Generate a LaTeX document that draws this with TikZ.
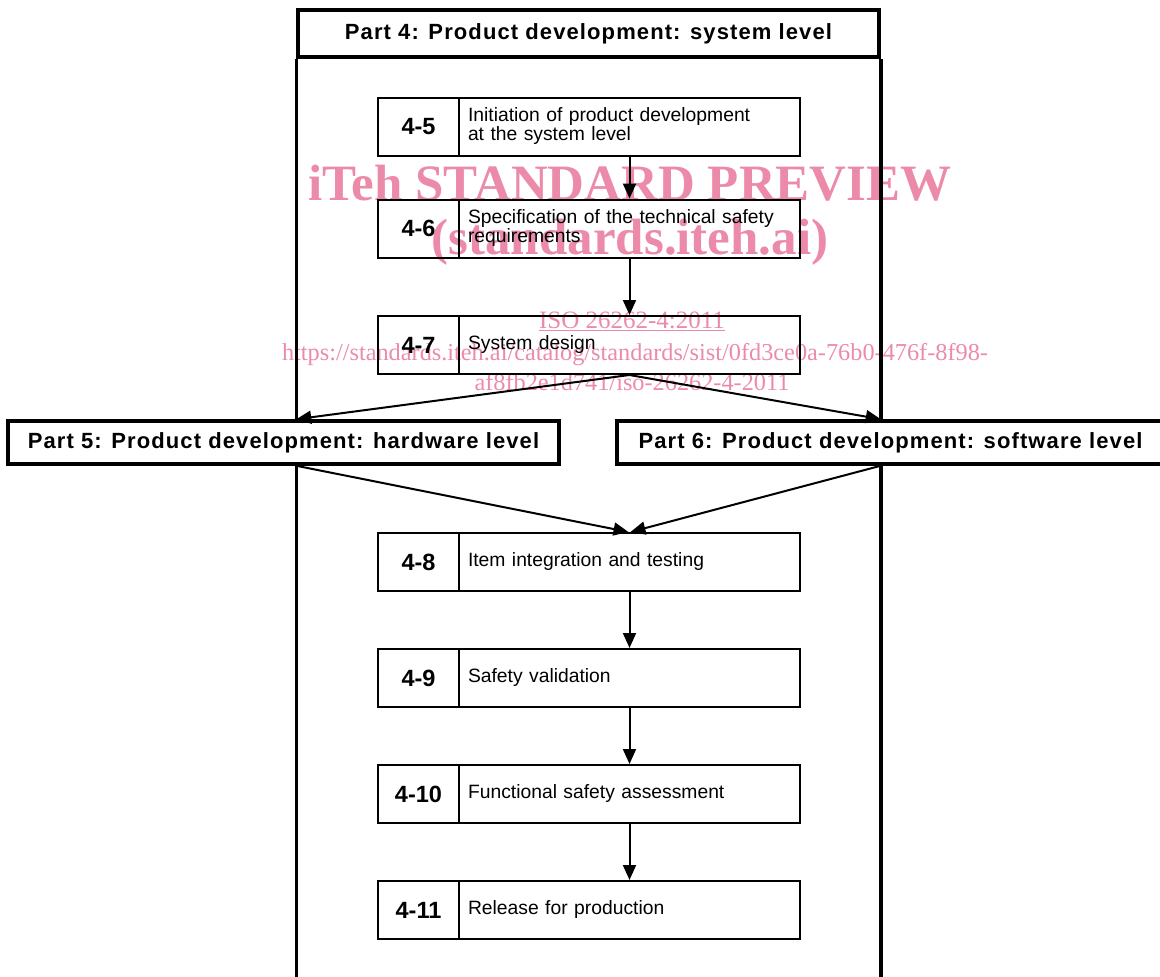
\documentclass[tikz,border=0pt]{standalone}
\usepackage{fontspec}
\setmainfont{Liberation Sans}
\newfontfamily\partfont[LetterSpace=5]{Liberation Sans}
\newfontfamily\wmfont{Liberation Serif}
\usetikzlibrary{arrows.meta,calc}
\definecolor{wmpink}{RGB}{236,138,170}
\begin{document}
\begin{tikzpicture}[x=1pt,y=-1pt,
  frameline/.style={line width=3.5pt},
  numcell/.style={draw,line width=2pt,minimum width=81pt,minimum height=58pt,
    inner sep=0pt,font=\fontsize{23.5}{23.5}\selectfont\bfseries},
  txtcell/.style={draw,line width=2pt,minimum width=341pt,minimum height=58pt,
    inner xsep=9pt,inner ysep=0pt,text width=323pt,align=left,
    font=\fontsize{19.3}{16.8}\selectfont},
  partbox/.style={draw,fill=white,line width=3.5pt,minimum height=43pt,
    inner sep=0pt,font=\partfont\fontsize{22}{22}\selectfont\bfseries},
  flow/.style={line width=2pt,-{Triangle[length=15pt,width=13pt]}},
  wm/.style={text=wmpink,anchor=base,inner sep=0pt}]
\useasboundingbox (0,0) rectangle (1160,977);

% watermark lettering, set behind the chart
\node[wm,font=\wmfont\bfseries\fontsize{51}{51}\selectfont] (wm1) at (630,200) {iTeh STANDARD PREVIEW};
\node[wm,font=\wmfont\bfseries\fontsize{51}{51}\selectfont] (wm2) at (630,254) {(standards.iteh.ai)};
\node[wm,font=\wmfont\fontsize{25}{25}\selectfont] (wm3) at (632,328) {\underline{ISO 26262-4:2011}};
\node[wm,font=\wmfont\fontsize{24.3}{24.3}\selectfont] (wm4) at (635,360) {https://standards.iteh.ai/catalog/standards/sist/0fd3ce0a-76b0-476f-8f98-};
\node[wm,font=\wmfont\fontsize{24.3}{24.3}\selectfont] (wm5) at (632,390) {af8fb2e1d741/iso-26262-4-2011};

% Part 4 frame with its header
\node[partbox,minimum width=581pt,minimum height=47pt] (p4) at (588.5,33.5)
  {Part 4: Product development: system level};
\draw[frameline] (p4.south west) -- ($(p4.south west)+(0,940)$);
\draw[frameline] (p4.south east) -- ($(p4.south east)+(0,940)$);

% Parts 5 and 6
\node[partbox,minimum width=551pt] (p5) at (283.5,442.5)
  {Part 5: Product development: hardware level};
\node[partbox,minimum width=547pt] (p6) at (890.5,442.5)
  {Part 6: Product development: software level};

% clause boxes
\node[numcell] (n45) at (418.5,126.5) {4-5};
\node[txtcell] (t45) at (629.5,126.5) {Initiation of product development\\at the system level};
\node[numcell] (n46) at (418.5,228.5) {4-6};
\node[txtcell] (t46) at (629.5,228.5) {Specification of the technical safety\\requirements};
\node[numcell] (n47) at (418.5,345) {4-7};
\node[txtcell] (t47) at (629.5,345) {System design};
\node[numcell] (n48) at (418.5,562) {4-8};
\node[txtcell] (t48) at (629.5,562) {Item integration and testing};
\node[numcell] (n49) at (418.5,678) {4-9};
\node[txtcell] (t49) at (629.5,678) {Safety validation};
\node[numcell] (n410) at (418.5,794) {4-10};
\node[txtcell] (t410) at (629.5,794) {Functional safety assessment};
\node[numcell] (n411) at (418.5,910) {4-11};
\node[txtcell] (t411) at (629.5,910) {Release for production};

% flow
\draw[flow] (t45.south) -- (t46.north);
\draw[flow] (t46.south) -- (t47.north);
\coordinate (in5) at (p5.north -| p4.south west);
\coordinate (in6) at (p6.north -| p4.south east);
\coordinate (out5) at (p5.south -| p4.south west);
\coordinate (out6) at (p6.south -| p4.south east);
\coordinate (in48l) at ($(t48.north)+(-1,0)$);
\coordinate (in48r) at ($(t48.north)+(1,0)$);
\draw[flow] (t47.south) -- (in5);
\draw[flow] (t47.south) -- (in6);
\draw[flow] (out5) -- (in48l);
\draw[flow] (out6) -- (in48r);
\draw[flow] (t48.south) -- (t49.north);
\draw[flow] (t49.south) -- (t410.north);
\draw[flow] (t410.south) -- (t411.north);
\end{tikzpicture}
\end{document}
